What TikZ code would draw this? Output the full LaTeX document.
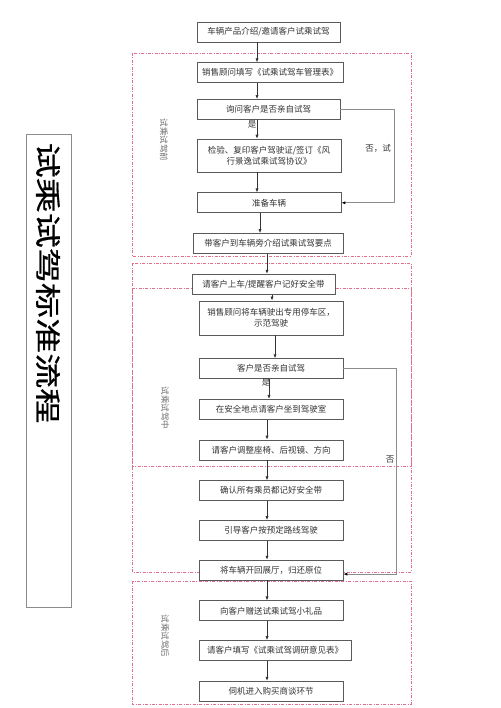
\documentclass[tikz,border=0pt]{standalone}
\usepackage{fontspec}
\usepackage{graphicx}
\usepackage{tikz}
\usetikzlibrary{arrows.meta, positioning}
\newfontfamily\cjk{Noto Sans CJK SC}
\newfontfamily\cjktitle{Noto Sans CJK SC}[FakeBold=0.6]
\definecolor{boxline}{HTML}{5a5a5a}
\definecolor{boxtext}{HTML}{333333}
\definecolor{phaseline}{HTML}{e2708c}
\definecolor{loopgray}{HTML}{8c8c8c}
\definecolor{sidegray}{HTML}{6e6e6e}
\tikzset{
  stepbox/.style  = {draw=boxline, line width=0.7pt, fill=white,
                     minimum width=144pt, minimum height=20pt,
                     font=\cjk\fontsize{8.5}{11}\selectfont, text=boxtext,
                     align=center, inner sep=2pt},
  flow/.style     = {-{Latex[length=4pt,width=3.2pt]}, line width=0.7pt, draw=boxtext},
  loopline/.style = {-{Latex[length=4pt,width=3.2pt,color=black]}, line width=1pt, draw=loopgray},
  phase/.style    = {draw=phaseline, line width=0.6pt,
                     dash pattern=on 3pt off 1.5pt on 0.8pt off 1.5pt},
  phaselbl/.style = {font=\cjk\fontsize{8.5}{9}\selectfont, text=sidegray, rotate=-90},
  yesno/.style    = {font=\cjk\fontsize{8.5}{9}\selectfont, text=boxtext, inner sep=1pt},
}

\begin{document}
\begin{tikzpicture}[x=1pt, y=-1pt]
    \useasboundingbox (0,0) rectangle (500,708);

    % phases
    \draw[phase] (132,53)  rectangle (411,256);
    \draw[phase] (132,263) rectangle (411,572);
    \draw[phase] (132,288) rectangle (411,466);
    \draw[phase] (132,581) rectangle (411,704);

    \node[phaselbl] (p1) at (164,140) {试乘试驾前};
    \node[phaselbl] (p2) at (165,408) {试乘试驾中};
    \node[phaselbl] (p3) at (165,636) {试乘试驾后};

    % title
    \node[draw=loopgray, line width=0.9pt, minimum width=45pt, minimum height=473pt,
          inner sep=0pt] (tbox) at (48.5,370.5) {};
    \node[rotate=-90, font=\cjktitle\fontsize{26}{26}\selectfont, text=black] (title) at (48,283)
          {\scalebox{1.35}[1]{试乘试驾标准流程}};

    % steps
    \node[stepbox, minimum width=143pt] (b1) at (268.5,32) {车辆产品介绍/邀请客户试乘试驾};
    \node[stepbox, minimum width=146pt, below=20pt of b1, xshift=1.5pt] (b2) {销售顾问填写《试乘试驾车管理表》};
    \node[stepbox, minimum width=143pt, below=16pt of b2, xshift=-1.5pt] (b3) {询问客户是否亲自试驾};
    \node[stepbox, minimum height=33pt, below=19pt of b3, xshift=0.5pt] (b4) {检验、复印客户驾驶证/签订《风\\行景逸试乘试驾协议》};
    \node[stepbox, below=20pt of b4] (b5) {准备车辆};
    \node[stepbox, minimum width=150pt, below=20pt of b5, xshift=-1pt] (b6) {带客户到车辆旁介绍试乘试驾要点};
    \node[stepbox, minimum width=143pt, below=20pt of b6, xshift=-4.5pt] (b7) {请客户上车/提醒客户记好安全带};
    \node[stepbox, minimum height=34pt, below=6pt of b7, xshift=7.5pt] (b8) {销售顾问将车辆驶出专用停车区，\\示范驾驶};
    \node[stepbox, below=23pt of b8] (b9)  {客户是否亲自试驾};
    \node[stepbox, below=20pt of b9] (b10) {在安全地点请客户坐到驾驶室};
    \node[stepbox, below=20pt of b10] (b11) {请客户调整座椅、后视镜、方向};
    \node[stepbox, below=20pt of b11] (b12) {确认所有乘员都记好安全带};
    \node[stepbox, below=19pt of b12] (b13) {引导客户按预定路线驾驶};
    \node[stepbox, below=19pt of b13] (b14) {将车辆开回展厅，归还原位};
    \node[stepbox, below=20pt of b14] (b15) {向客户赠送试乘试驾小礼品};
    \node[stepbox, minimum width=152pt, below=19pt of b15, xshift=4pt] (b16) {请客户填写《试乘试驾调研意见表》};
    \node[stepbox, below=20pt of b16, xshift=-4pt] (b17) {伺机进入购买商谈环节};

    % arrow columns
    \coordinate (c1) at (257,0);
    \coordinate (c2) at (260,0);
    \coordinate (c3) at (267,0);
    \coordinate (c4) at (272,0);
    \coordinate (c5) at (275,0);
    \coordinate (c6) at (269,0);
    \coordinate (r1) at (394,0);
    \coordinate (r2) at (396,0);

    \draw[flow] (b1.south -| c1) -- (b2.north -| c1);
    \draw[flow] (b2.south -| c1) -- (b3.north -| c1);
    \draw[flow] (b3.south -| c1) -- (b4.north -| c1);
    \draw[flow] (b4.south -| c1) -- (b5.north -| c1);
    \draw[flow] (b5.south -| c2) -- (b6.north -| c2);
    \draw[flow] (b6.south -| c3) -- (b7.north -| c3);
    \draw[flow] (b7.south -| c4) -- (b8.north -| c4);
    \draw[flow] (b8.south -| c5) -- (b9.north -| c5);
    \draw[flow] (b9.south -| c6) -- (b10.north -| c6);
    \foreach \a/\b in {b10/b11, b11/b12, b12/b13, b13/b14, b14/b15, b15/b16, b16/b17}
      \draw[flow] (\a.south -| c3) -- (\b.north -| c3);

    % no-branches
    \draw[loopline] (b3.east) -- (b3.east -| r1) |- (b5.east);
    \draw[loopline] (b9.east) -- (b9.east -| r2) |- ([yshift=-4pt]b14.east);

    \node[yesno] (yes1) at (252,124) {是};
    \node[yesno] (yes2) at (266,382) {是};
    \node[yesno] (no1)  at (378,148) {否，试};
    \node[yesno] (no2)  at (390,460) {否};
  \end{tikzpicture}
\end{document}
